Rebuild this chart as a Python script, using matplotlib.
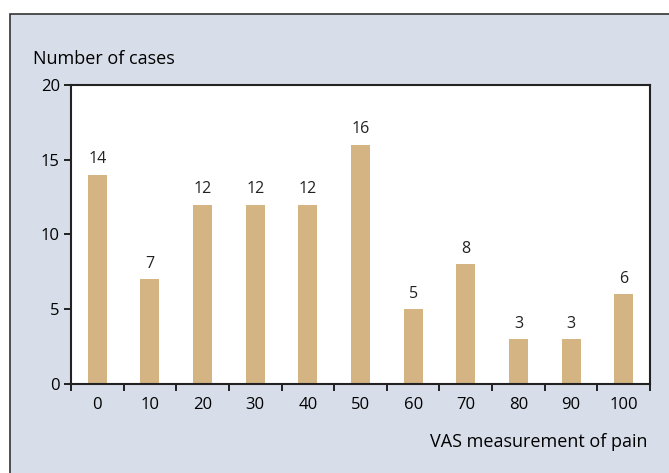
import matplotlib.pyplot as plt
from matplotlib.patches import Rectangle

# VAS pain score categories and number of cases
vas = ['0', '10', '20', '30', '40', '50', '60', '70', '80', '90', '100']
cases = [14, 7, 12, 12, 12, 16, 5, 8, 3, 3, 6]

panel_color = '#d8dee9'
bar_color = '#d4b483'
plt.rcParams['font.family'] = 'Open Sans'

fig = plt.figure(figsize=(6.69, 4.73), dpi=100)
fig.patches.append(Rectangle((10 / 669, -0.01), 1.0, (473 - 14) / 473 + 0.01,
                             transform=fig.transFigure, facecolor=panel_color,
                             edgecolor='#333333', linewidth=1.2, zorder=-5))

ax = fig.add_axes([71 / 669, (473 - 384) / 473, 579 / 669, 299 / 473])
ax.set_zorder(2)
ax.set_facecolor('white')

x = list(range(len(vas)))
ax.bar(x, cases, width=0.36, color=bar_color, zorder=2)
for xi, v in zip(x, cases):
    ax.text(xi, v + 0.5, str(v), ha='center', va='bottom', fontsize=11.5, color='#222222')

ax.set_xlim(-0.5, len(vas) - 0.5)
ax.set_ylim(0, 20)
ax.set_yticks([0, 5, 10, 15, 20])

# tick marks between categories, labels under bars
ax.set_xticks([i - 0.5 for i in range(len(vas) + 1)])
ax.set_xticklabels([])
ax.set_xticks(x, minor=True)
ax.set_xticklabels(vas, minor=True)
ax.tick_params(axis='x', which='minor', length=0, pad=9, labelsize=12)
ax.tick_params(axis='x', which='major', length=5, width=1.2, direction='out')
ax.tick_params(axis='y', length=5, width=1.2, direction='out', labelsize=12, pad=3)

for s in ax.spines.values():
    s.set_linewidth(1.5)
    s.set_color('#222222')

fig.text(33 / 669, 1 - 59 / 473, 'Number of cases', fontsize=13, va='center', ha='left')
fig.text(648 / 669, 1 - 442 / 473, 'VAS measurement of pain', fontsize=13, va='center', ha='right')

fig.savefig('out.png', dpi=100)
